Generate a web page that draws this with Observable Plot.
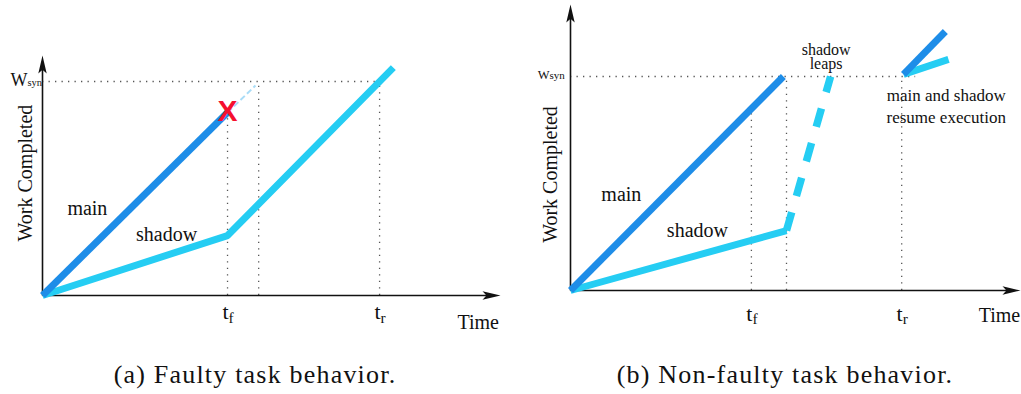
<!DOCTYPE html>
<html><head><meta charset="utf-8">
<script src="https://cdn.jsdelivr.net/npm/d3@7"></script>
<script src="https://cdn.jsdelivr.net/npm/@observablehq/plot@0.6"></script>
<style>
body{margin:0;background:#fff;}
#wrap{position:relative;width:1021px;height:394px;display:flex;}
.panel{position:relative;height:394px;}
.cap{position:absolute;top:362px;font-family:"Liberation Serif";font-size:26px;line-height:26px;text-align:center;letter-spacing:1.2px;color:#111;white-space:nowrap}
</style></head><body>
<div id="wrap">
  <div class="panel" id="pa" style="width:510px"><div class="cap" style="left:0;width:510px">(a) Faulty task behavior.</div></div>
  <div class="panel" id="pb" style="width:511px"><div class="cap" style="left:0;width:550px">(b) Non-faulty task behavior.</div></div>
</div>
<script>
// ---------- Panel (a): faulty task behavior ----------
const aMainT = [0, 40.4];
const aMainW = [0, 85.5];
const aGhostT = [40.4, 46.5];          // faint continuation of main after the fault
const aGhostW = [85.5, 98.1];
const aShadowT = [0, 40.4, 76.6];
const aShadowW = [0, 28, 106.5];
const aWsyn = 100;
const aWsynEnd = 73.6;
const aGuideT = [40.4, 47.2, 73.6];    // dotted verticals
const aGuideTop = [85.5, 100, 100];
const aTickT = [40.4, 73.6];
const aTickSub = ["f", "r"];
const aAxisMax = {t: 100, w: 112.1};
const aFault = {t: 40.4, w: 85.5};

// ---------- Panel (b): non-faulty task behavior ----------
const bMainT = [0, 47.3];
const bMainW = [0, 100];
const bShadowT = [0, 48];
const bShadowW = [0, 28];
const bLeapT = [48, 57.8];             // shadow leaps (dashed)
const bLeapW = [28, 100];
const bResumeMainT = [74, 83.3];
const bResumeMainW = [101, 121];
const bResumeShadowT = [74, 84];
const bResumeShadowW = [101, 108];
const bWsyn = 100;
const bWsynEnd = 76.7;
const bGuideT = [40.2, 48, 73.6];
const bGuideTop = [85, 100, 100];
const bTickT = [40.2, 73.6];
const bTickSub = ["f", "r"];
const bAxisMax = {t: 100, w: 133.6};

const SERIF = "Liberation Serif";
const MAIN = "#1e8de8", SHADOW = "#25cdf3", GUIDE = "#555";
const zip = (ts, ws) => ts.map((t, i) => ({t, w: ws[i]}));
const head = {draw(ctx, l) { ctx.moveTo(0, -l); ctx.lineTo(-4.2, 0); ctx.lineTo(0, -l * 0.22); ctx.lineTo(4.2, 0); ctx.closePath(); }};

function axes(max) {
  return [
    Plot.link([{t1: 0, w1: 0, t2: max.t - 2, w2: 0}, {t1: 0, w1: 0, t2: 0, w2: max.w - 4}],
      {x1: "t1", y1: "w1", x2: "t2", y2: "w2", stroke: "#111", strokeWidth: 1.6}),
    Plot.vector([{t: max.t, w: 0, r: 90}, {t: 0, w: max.w, r: 0}],
      {x: "t", y: "w", rotate: "r", length: 18, anchor: "end", shape: head, fill: "#111", stroke: "none"})
  ];
}
function guides(ts, tops, wsyn, wsynEnd) {
  const rows = ts.map((t, i) => ({t, top: tops[i]}));
  return [
    Plot.ruleX(rows, {x: "t", y1: 0, y2: "top", stroke: GUIDE, strokeWidth: 1.3, strokeDasharray: "1.3,5.2"}),
    Plot.ruleY([wsyn], {x1: 0, x2: wsynEnd, stroke: GUIDE, strokeWidth: 1.3, strokeDasharray: "1.3,5.2"})
  ];
}
function ticks(ts, subs, dyT, dyS, fs) {
  const rows = ts.map((t, i) => ({t, sub: subs[i]}));
  return [
    Plot.text(rows, {x: "t", y: 0, text: () => "t", textAnchor: "end", lineAnchor: "bottom", dx: 1, dy: dyT, fontSize: fs, fill: "#111", fontFamily: SERIF}),
    Plot.text(rows, {x: "t", y: 0, text: "sub", textAnchor: "start", lineAnchor: "bottom", dx: 1, dy: dyS, fontSize: fs * 0.7, fill: "#111", fontFamily: SERIF})
  ];
}
const lineOpts = (stroke, extra = {}) => ({x: "t", y: "w", stroke, strokeWidth: 7, strokeLinecap: "butt", strokeLinejoin: "miter", ...extra});
const txt = (s, t, w, fs, extra = {}) => Plot.text([{t, w, s}], {x: "t", y: "w", text: "s", fontSize: fs, fill: "#111", lineAnchor: "bottom", fontFamily: SERIF, ...extra});

const plotA = Plot.plot({
  width: 510, height: 345,
  style: {background: "transparent", overflow: "visible"},
  x: {domain: [0, 100], range: [42, 500], axis: null},
  y: {domain: [0, 100], range: [295, 81], axis: null},
  marks: [
    ...guides(aGuideT, aGuideTop, aWsyn, aWsynEnd),
    ...axes(aAxisMax),
    Plot.line(zip(aGhostT, aGhostW), lineOpts("#a9dcf7", {strokeWidth: 2, strokeDasharray: "6,3"})),
    Plot.line(zip(aShadowT, aShadowW), lineOpts(SHADOW)),
    Plot.line(zip(aMainT, aMainW), lineOpts(MAIN)),
    Plot.text([aFault], {x: "t", y: "w", text: () => "X", fill: "#f5102e", fontSize: 30, fontWeight: "bold", fontFamily: "Liberation Sans", dy: -1}),
    ...ticks(aTickT, aTickSub, 23, 27, 22),
    txt("Time", 90.6, 0, 20, {textAnchor: "start", dy: 33}),
    txt("W", 0, aWsyn, 18, {textAnchor: "end", dx: -15, dy: 4}),
    txt("syn", 0, aWsyn, 10.5, {textAnchor: "start", dx: -15, dy: 4}),
    txt("Work Completed", 0, 57.2, 20, {rotate: -90, lineAnchor: "middle", dx: -17}),
    txt("main", 9.8, 37.4, 20),
    txt("shadow", 27.1, 25.7, 20)
  ]
});

const plotB = Plot.plot({
  width: 511, height: 345,
  style: {background: "transparent", overflow: "visible"},
  x: {domain: [0, 100], range: [60, 510], axis: null},
  y: {domain: [0, 100], range: [290, 76], axis: null},
  marks: [
    ...guides(bGuideT, bGuideTop, bWsyn, bWsynEnd),
    ...axes(bAxisMax),
    Plot.line(zip(bShadowT, bShadowW), lineOpts(SHADOW)),
    Plot.line(zip(bLeapT, bLeapW), lineOpts(SHADOW, {strokeWidth: 7.5, strokeDasharray: "19,17"})),
    Plot.line(zip(bMainT, bMainW), lineOpts(MAIN)),
    Plot.line(zip(bResumeShadowT, bResumeShadowW), lineOpts(SHADOW)),
    Plot.line(zip(bResumeMainT, bResumeMainW), lineOpts(MAIN)),
    ...ticks(bTickT, bTickSub, 30, 33, 22),
    txt("Time", 90.7, 0, 20, {textAnchor: "start", dy: 31}),
    txt("W", 0, bWsyn, 12.5, {textAnchor: "end", dx: -21, dy: 2}),
    txt("syn", 0, bWsyn, 11, {textAnchor: "start", dx: -21, dy: 2}),
    txt("Work Completed", 0, 54.2, 20, {rotate: -90, lineAnchor: "middle", dx: -20}),
    txt("main", 11.3, 42, 20),
    txt("shadow", 28.2, 24.8, 20),
    txt("shadow\nleaps", 56.8, 103.7, 16, {lineHeight: 0.82}),
    txt("main and shadow\nresume execution", 83.5, 78.5, 17, {lineHeight: 1.28})
  ]
});

document.getElementById("pa").prepend(plotA);
document.getElementById("pb").prepend(plotB);
</script>
</body></html>
